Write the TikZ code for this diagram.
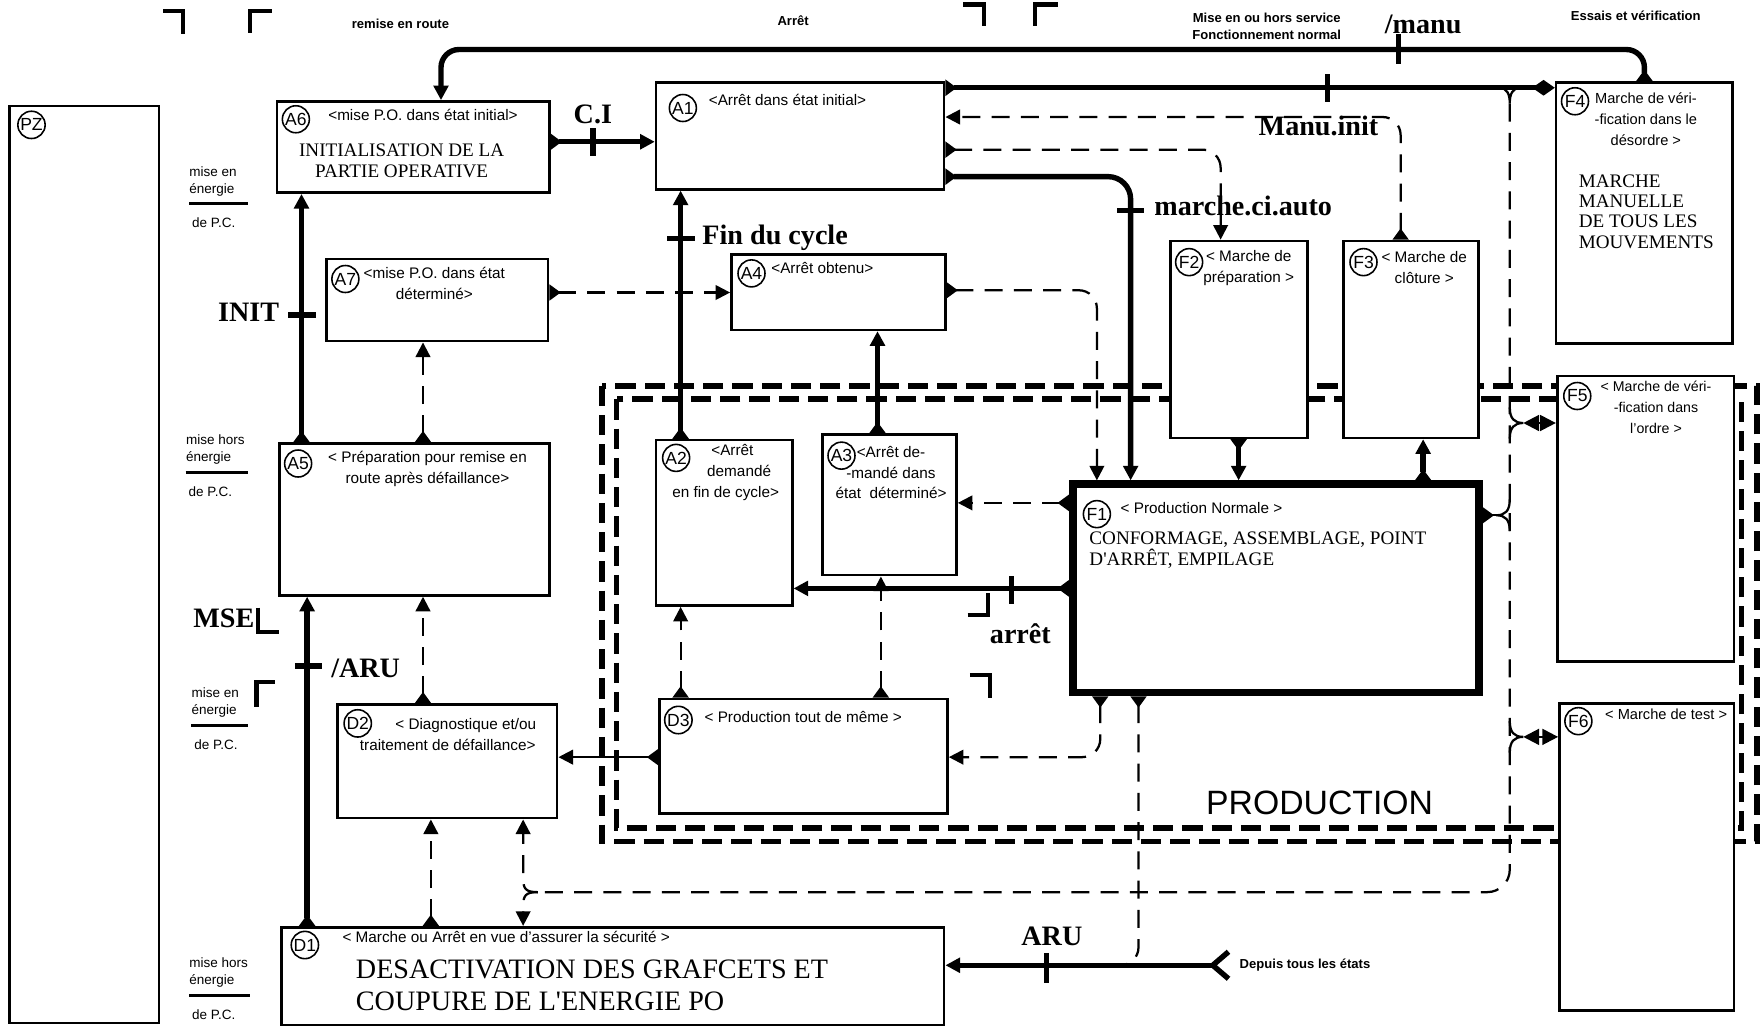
\documentclass[tikz,border=0pt]{standalone}
\usepackage{fontspec}
\setmainfont{Liberation Sans}
\newfontfamily\romain{Liberation Serif}
\usetikzlibrary{arrows.meta, positioning}

\begin{document}
\begin{tikzpicture}[
    x=0.5pt, y=-0.5pt,
    every node/.style={inner sep=0pt, font=\fontsize{6.8}{9.3}\selectfont},
    etat/.style={draw, rectangle, line width=1.2pt, fill=white, anchor=north west},
    repere/.style={draw, circle, line width=0.7pt, minimum size=12pt, inner sep=0.3pt, font=\fontsize{7.8}{8}\selectfont},
    fort/.style={line width=2.4pt},
    option/.style={line width=1pt, dash pattern=on 8pt off 5pt},
    fin/.style={line width=1pt},
    cadre/.style={line width=2.6pt, dash pattern=on 9pt off 4pt},
    recep/.style={line width=2.4pt},
    coin/.style={line width=1.8pt},
    cond/.style={font=\fontsize{12.5}{14}\selectfont\romain\bfseries},
    texte/.style={font=\fontsize{8.5}{9}\selectfont\romain},
    energie/.style={font=\fontsize{6}{7.5}\selectfont},
    zone/.style={font=\fontsize{5.8}{7.5}\selectfont\bfseries},
    dep/.tip={Triangle[reversed, length=5pt, width=7pt]},
    >={Triangle[length=6.5pt, width=6.5pt]}
]
\useasboundingbox (0,0) rectangle (1568,912);

% Cadre de production
\draw[cadre] (535,343) rectangle (1562,748);
\draw[cadre] (548,355) rectangle (1548,736);
\node[font=\fontsize{15}{18}\selectfont] (prod) at (1173,714) {PRODUCTION};

% Zones et reperes
\node[zone] (zRemise) at (356,21) {remise en route};
\node[zone] (zArret) at (705,18) {Arr\^et};
\node[zone, align=center] (zService) at (1126,23.5) {Mise en ou hors service\\Fonctionnement normal};
\node[zone] (zEssais) at (1454,14) {Essais et v\'erification};
\draw[coin] (145,10) -- (163,10) -- (163,30);
\draw[coin] (222,29) -- (222,10) -- (242,10);
\draw[coin] (856,4) -- (875,4) -- (875,23);
\draw[coin] (920,23) -- (920,4) -- (940,4);
\draw[coin] (229,540) -- (229,562) -- (248,562);
\draw[coin] (228,628) -- (228,606) -- (244,606);
\draw[coin] (860,547) -- (878,547) -- (878,527);
\draw[coin] (862,600) -- (880,600) -- (880,620);

% Mise en / hors energie
\node[energie, anchor=west, align=left] (e1) at (168,161) {mise en\\\'energie};
\draw[recep, line width=1.5pt] (168,181) -- (220,181);
\node[energie] (e1pc) at (190,198) {de P.C.};
\node[energie, anchor=west, align=left] (e2) at (165,399.5) {mise hors\\\'energie};
\draw[recep, line width=1.5pt] (165,420) -- (220,420);
\node[energie] (e2pc) at (187,437) {de P.C.};
\node[energie, anchor=west, align=left] (e3) at (170,624.5) {mise en\\\'energie};
\draw[recep, line width=1.5pt] (170,645) -- (220,645);
\node[energie] (e3pc) at (192,662) {de P.C.};
\node[energie, anchor=west, align=left] (e4) at (168,864.5) {mise hors\\\'energie};
\draw[recep, line width=1.5pt] (168,885) -- (222,885);
\node[energie] (e4pc) at (190,902) {de P.C.};

% Etats
\node[etat, minimum width=66.5pt, minimum height=407.5pt] (PZ) at (7,93) {};
\node[etat, minimum width=121pt, minimum height=40.5pt] (A6) at (245,89) {};
\node[etat, minimum width=98.5pt, minimum height=36.5pt] (A7) at (289,229) {};
\node[etat, minimum width=120pt, minimum height=67.5pt] (A5) at (247,393) {};
\node[etat, minimum width=128pt, minimum height=47.5pt] (A1) at (582,72) {};
\node[etat, minimum width=95pt, minimum height=33.5pt] (A4) at (649,225) {};
\node[etat, minimum width=60.5pt, minimum height=73.5pt] (A2) at (582,390) {};
\node[etat, minimum width=59.5pt, minimum height=62.5pt] (A3) at (730,385) {};
\node[etat, minimum width=128pt, minimum height=51pt] (D3) at (585,620) {};
\node[etat, minimum width=97.5pt, minimum height=50.5pt] (D2) at (299,625) {};
\node[etat, minimum width=294.5pt, minimum height=43.5pt] (D1) at (249,823) {};
\node[etat, line width=3.5pt, minimum width=180.5pt, minimum height=92.5pt] (F1) at (950,427) {};
\node[etat, minimum width=61pt, minimum height=87.5pt] (F2) at (1039,213) {};
\node[etat, minimum width=60pt, minimum height=87.5pt] (F3) at (1193,213) {};
\node[etat, minimum width=78.5pt, minimum height=116pt] (F4) at (1382,72) {};
\node[etat, minimum width=78.5pt, minimum height=127pt] (F5) at (1383,333) {};
\node[etat, minimum width=77.5pt, minimum height=136.5pt] (F6) at (1385,624) {};

% Reperes des etats
\node[repere] (cPZ) at (28,111) {PZ};
\node[repere] (cA6) at (263,106) {A6};
\node[repere] (cA7) at (307,248) {A7};
\node[repere] (cA5) at (265,412) {A5};
\node[repere] (cA1) at (607,96) {A1};
\node[repere] (cA4) at (668,243) {A4};
\node[repere] (cA2) at (601,407) {A2};
\node[repere] (cA3) at (748,405) {A3};
\node[repere] (cD3) at (603,640) {D3};
\node[repere] (cD2) at (318,643) {D2};
\node[repere] (cD1) at (271,840) {D1};
\node[repere] (cF1) at (975,457) {F1};
\node[repere] (cF2) at (1057,233) {F2};
\node[repere] (cF3) at (1212,233) {F3};
\node[repere] (cF4) at (1400,90) {F4};
\node[repere] (cF5) at (1402,352) {F5};
\node[repere] (cF6) at (1403,641) {F6};

% Textes des etats
\node (tA6) at (376,102) {<mise P.O. dans \'etat initial>};
\node[texte, align=center] (sA6) at (357,143) {INITIALISATION DE LA\\PARTIE OPERATIVE};
\node[align=center] (tA7) at (386,252) {<mise P.O. dans \'etat\\ d\'etermin\'e>};
\node[align=center] (tA5) at (380,417) {< Pr\'eparation pour remise en\\route apr\`es d\'efaillance>};
\node (tA1) at (700,89) {<Arr\^et dans \'etat initial>};
\node (tA4) at (731,238) {<Arr\^et obtenu>};
\node[align=center] (tA2) at (645,420) {\hspace*{6pt}<Arr\^et\\\hspace*{12pt}demand\'e\\en fin de cycle>};
\node[align=center] (tA3) at (792,420) {<Arr\^et de-\\-mand\'e dans\\\'etat\ \ d\'etermin\'e>};
\node (tD3) at (714,637) {< Production tout de m\^eme >};
\node[align=center] (tD2) at (398,653) {\hspace*{16pt}< Diagnostique et/ou\\traitement de d\'efaillance>};
\node (tD1) at (450,833) {< Marche ou Arr\^et en vue d'assurer la s\'ecurit\'e >};
\node[texte, anchor=west, align=left, font=\fontsize{12.5}{14}\selectfont\romain] (sD1) at (316,876) {DESACTIVATION DES GRAFCETS ET\\COUPURE DE L'ENERGIE PO};
\node (tF1) at (1068,452) {< Production Normale >};
\node[texte, anchor=west, align=left] (sF1) at (968,489) {CONFORMAGE, ASSEMBLAGE, POINT\\D'ARR\^ET, EMPILAGE};
\node[align=center] (tF2) at (1110,238) {< Marche de\\pr\'eparation >};
\node[align=center] (tF3) at (1266,238) {< Marche de\\cl\^oture >};
\node[align=center, font=\fontsize{6.5}{9.3}\selectfont] (tF4) at (1463,106) {Marche de v\'eri-\\-fication dans le\\d\'esordre >};
\node[texte, anchor=west, align=left] (sF4) at (1403,188) {MARCHE\\MANUELLE\\DE TOUS LES\\MOUVEMENTS};
\node[align=center, font=\fontsize{6.3}{9.3}\selectfont] (tF5) at (1472,362) {< Marche de v\'eri-\\-fication dans\\l'ordre >};
\node[font=\fontsize{6.5}{9.3}\selectfont] (tF6) at (1481,635) {< Marche de test >};

% Conditions de franchissement
\node[cond] (lManu) at (1265,22) {/manu};
\node[cond] (lCI) at (527,102) {C.I};
\node[cond] (lInit) at (221,278) {INIT};
\node[cond] (lMse) at (199,550) {MSE};
\node[cond] (lNonAru) at (325,594) {/ARU};
\node[cond] (lFin) at (689,211) {Fin du cycle};
\node[cond] (lManuInit) at (1172,112) {Manu.init};
\node[cond] (lAuto) at (1105,183) {marche.ci.auto};
\node[cond] (lArret) at (907,563) {arr\^et};
\node[cond] (lAru) at (935,832) {ARU};
\node[zone] (lDepuis) at (1160,858) {Depuis tous les \'etats};

% Boucle superieure
\draw[fort, dep->, rounded corners=8pt] (F4.north) |- (392,44) -- (A6.north -| 392,0);
\draw[recep] (1243,30) -- (1243,57);
\draw[fort, dep-{Diamond[length=10pt, width=7pt]}] (A1.east |- 0,78) -- (F4.west |- 0,78);
\draw[recep] (1180,66) -- (1180,91);

% Liaisons de A1
\draw[option, dep->, rounded corners=8pt] (F3.north -| 1245,0) |- (A1.east |- 0,104);
\draw[option, dep->, rounded corners=8pt] (A1.east |- 0,133) -| (F2.north -| 1085,0);
\draw[fort, dep->, rounded corners=10pt] (A1.east |- 0,157) -| (F1.north -| 1005,0);
\draw[recep] (993,187) -- (1017,187);

% Marches F
\draw[fort, dep->] (F2.south -| 1101,0) -- (F1.north -| 1101,0);
\draw[fort, dep->] (F1.north -| 1265,0) -- (F3.south -| 1265,0);

% Arrets A
\draw[fort, dep->] (A6.east |- 0,126) -- (A1.west |- 0,126);
\draw[recep] (527,114) -- (527,139);
\draw[fort, dep->] (A5.north -| 268,0) -- (A6.south -| 268,0);
\draw[recep] (256,280) -- (281,280);
\draw[option, dep->] (A5.north -| 376,0) -- (A7.south -| 376,0);
\draw[option, dep->] (A7.east |- 0,260) -- (A4.west |- 0,260);
\draw[option, dep->, rounded corners=8pt] (A4.east |- 0,258) -| (F1.north -| 975,0);
\draw[fort, dep->] (A2.north -| 605,0) -- (A1.south -| 605,0);
\draw[recep] (593,212) -- (618,212);
\draw[fort, dep->] (A3.north -| 780,0) -- (A4.south -| 780,0);
\draw[option, dep->] (F1.west |- 0,447) -- (A3.east |- 0,447);
\draw[fort, dep->] (F1.west |- 0,523) -- (A2.east |- 0,523);
\draw[recep] (899,512) -- (899,537);

% Defaillances D
\draw[option, dep->] (D3.north -| 605,0) -- (A2.south -| 605,0);
\draw[option, dep->] (D3.north -| 783,0) -- (A3.south -| 783,0);
\draw[fin, dep->] (D3.west |- 0,673) -- (D2.east |- 0,673);
\draw[option, dep->, rounded corners=8pt] (F1.south -| 978,0) |- (D3.east |- 0,673);
\draw[option, dep->] (D2.north -| 376,0) -- (A5.south -| 376,0);
\draw[option, dep->] (D1.north -| 383,0) -- (D2.south -| 383,0);
\draw[fort, dep->] (D1.north -| 273,0) -- (A5.south -| 273,0);
\draw[recep] (262,592) -- (286,592);

% Arret d'urgence
\coordinate (depuis) at (1078,858);
\coordinate (jonction) at (995,858);
\draw[fort, ->] (depuis) -- (D1.east |- 0,858);
\draw[fort] (1092,846) -- (depuis) -- (1092,870);
\draw[recep] (930,847) -- (930,874);
\draw[option, dep-, rounded corners=8pt] (F1.south -| 1012,0) |- (jonction);

% Ligne de retour vers D1 et D2
\coordinate (bus) at (1342,92);
\coordinate (fourche) at (478,793);
\draw[fin] (1332,78) .. controls (1340,78) and (1342,84) .. (bus) .. controls (1342,84) and (1344,78) .. (1352,78);
\draw[option, rounded corners=10pt] (bus) -- (1342,793) -- (fourche);
\draw[option, ->] (fourche) .. controls (467,793) and (465,790) .. (465,780) -- (D2.south -| 465,0);
\draw[option, ->] (fourche) .. controls (467,793) and (465,796) .. (465,806) -- (D1.north -| 465,0);
\draw[fin, dep-] (F1.east |- 0,458) -- (1330,458);
\draw[fin] (1342,444) .. controls (1342,454) and (1338,458) .. (1330,458) .. controls (1338,458) and (1342,462) .. (1342,472);
\draw[fin] (1342,362) .. controls (1342,372) and (1346,376) .. (1354,376) .. controls (1346,376) and (1342,380) .. (1342,390);
\draw[fin, {Triangle[length=7pt, width=7pt]}-{Triangle[length=7pt, width=7pt]}] (1354,376) -- (F5.west |- 0,376);
\draw[fin] (1342,641) .. controls (1342,651) and (1346,655) .. (1354,655) .. controls (1346,655) and (1342,659) .. (1342,669);
\draw[fin, {Triangle[length=7pt, width=7pt]}-{Triangle[length=7pt, width=7pt]}] (1354,655) -- (F6.west |- 0,655);

\end{tikzpicture}
\end{document}
